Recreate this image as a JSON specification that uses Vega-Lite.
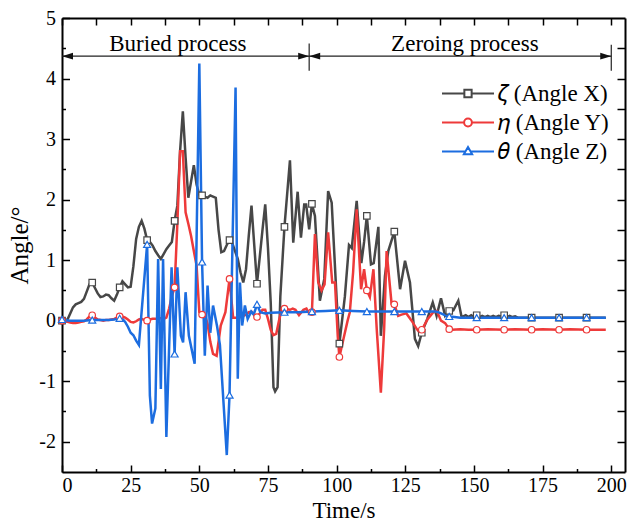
{
 "$schema": "https://vega.github.io/schema/vega-lite/v6.json",
 "width": 563, "height": 454,
 "autosize": {"type": "none"},
 "padding": {"left": 62, "top": 18, "right": 2, "bottom": 50},
 "background": "white",
 "config": {"view": {"stroke": null}, "font": "Liberation Serif",
  "axis": {"grid": false, "labelFont": "Liberation Serif", "titleFont": "Liberation Serif", "labelColor": "#000", "titleColor": "#000", "tickColor": "#000", "domainColor": "#000", "labelFontSize": 20, "titleFontSize": 23, "titleFontWeight": "normal", "tickWidth": 1.5, "domainWidth": 2}},
 "resolve": {"axis": {"x": "independent", "y": "independent"}},
 "datasets": {
  "X": [{"t":0,"v":0},{"t":1,"v":0},{"t":2,"v":0.02},{"t":3,"v":0.12},{"t":4,"v":0.22},{"t":5,"v":0.27},{"t":6,"v":0.29},{"t":7,"v":0.31},{"t":8,"v":0.36},{"t":9,"v":0.48},{"t":10,"v":0.6},{"t":11,"v":0.63},{"t":12,"v":0.54},{"t":13,"v":0.45},{"t":14,"v":0.39},{"t":15,"v":0.4},{"t":16,"v":0.43},{"t":17,"v":0.42},{"t":18,"v":0.37},{"t":19,"v":0.33},{"t":20,"v":0.43},{"t":21,"v":0.55},{"t":22,"v":0.65},{"t":23,"v":0.6},{"t":24,"v":0.55},{"t":25,"v":0.56},{"t":26,"v":0.9},{"t":27,"v":1.35},{"t":28,"v":1.55},{"t":29,"v":1.65},{"t":30,"v":1.52},{"t":31,"v":1.33},{"t":32,"v":1.3},{"t":33,"v":1.24},{"t":34,"v":1.15},{"t":35,"v":1.08},{"t":36,"v":1.02},{"t":37,"v":1.1},{"t":38,"v":1.18},{"t":39,"v":1.24},{"t":40,"v":1.3},{"t":41,"v":1.65},{"t":42,"v":1.9},{"t":43,"v":2.8},{"t":44,"v":3.46},{"t":45,"v":2.7},{"t":46,"v":2.03},{"t":47,"v":2.3},{"t":48,"v":2.57},{"t":49,"v":2.25},{"t":50,"v":2.08},{"t":51,"v":2.07},{"t":52,"v":2.05},{"t":53,"v":2.03},{"t":54,"v":2.07},{"t":55,"v":2.05},{"t":56,"v":2.03},{"t":57,"v":1.5},{"t":58,"v":1.13},{"t":59,"v":1.15},{"t":60,"v":1.25},{"t":61,"v":1.33},{"t":62,"v":1.28},{"t":63,"v":1.15},{"t":64,"v":1.02},{"t":65,"v":0.8},{"t":66,"v":0.63},{"t":67,"v":0.85},{"t":68,"v":1.4},{"t":69,"v":1.9},{"t":70,"v":1.25},{"t":71,"v":0.61},{"t":72,"v":1.05},{"t":73,"v":1.5},{"t":74,"v":1.92},{"t":75,"v":1.2},{"t":76,"v":0.3},{"t":77,"v":-1.1},{"t":77.6,"v":-1.17},{"t":78.5,"v":-1.1},{"t":79.5,"v":0.4},{"t":81,"v":1.55},{"t":83,"v":2.65},{"t":84.2,"v":1.29},{"t":85.8,"v":2.13},{"t":87,"v":1.37},{"t":88.2,"v":1.92},{"t":88.9,"v":1.92},{"t":90,"v":1.51},{"t":91,"v":1.93},{"t":92.1,"v":1.73},{"t":93.9,"v":0.33},{"t":95.5,"v":0.69},{"t":96.9,"v":2.14},{"t":98.2,"v":1.95},{"t":100,"v":0.36},{"t":101,"v":-0.38},{"t":103,"v":0.4},{"t":104.5,"v":1.25},{"t":105.5,"v":1.2},{"t":107.3,"v":1.98},{"t":109,"v":0.95},{"t":110,"v":1.3},{"t":111,"v":1.73},{"t":112.5,"v":0.93},{"t":113.5,"v":0.95},{"t":115.2,"v":1.55},{"t":116.1,"v":-0.25},{"t":117.6,"v":0.74},{"t":118.8,"v":1.15},{"t":121,"v":1.47},{"t":123.1,"v":0.52},{"t":124.9,"v":0.99},{"t":126.7,"v":0.63},{"t":128.5,"v":-0.3},{"t":129.7,"v":-0.42},{"t":131,"v":-0.2},{"t":133,"v":0.03},{"t":135,"v":0.3},{"t":136.4,"v":0.08},{"t":138,"v":0.37},{"t":139.5,"v":0.08},{"t":141,"v":0.16},{"t":142.5,"v":0.17},{"t":144.3,"v":0.33},{"t":145.5,"v":0.06},{"t":147,"v":0.09},{"t":148,"v":0.06},{"t":149,"v":0.09},{"t":150,"v":0.06},{"t":151,"v":0.09},{"t":152,"v":0.06},{"t":153,"v":0.08},{"t":154,"v":0.06},{"t":155,"v":0.08},{"t":156,"v":0.06},{"t":157,"v":0.08},{"t":158,"v":0.06},{"t":159,"v":0.08},{"t":160,"v":0.07},{"t":161,"v":0.09},{"t":162,"v":0.06},{"t":163,"v":0.08},{"t":164,"v":0.06},{"t":165,"v":0.07},{"t":166,"v":0.05},{"t":171,"v":0.05},{"t":181,"v":0.05},{"t":191,"v":0.05},{"t":198,"v":0.05}],
  "Y": [{"t":0,"v":0},{"t":1,"v":-0.01},{"t":2,"v":-0.02},{"t":3,"v":-0.03},{"t":4,"v":-0.04},{"t":5,"v":-0.04},{"t":6,"v":-0.03},{"t":7,"v":-0.02},{"t":8,"v":-0.01},{"t":9,"v":0.02},{"t":10,"v":0.07},{"t":11,"v":0.09},{"t":12,"v":0.05},{"t":13,"v":0.02},{"t":14,"v":0.01},{"t":15,"v":0},{"t":16,"v":0.01},{"t":17,"v":0.01},{"t":18,"v":0.02},{"t":19,"v":0.03},{"t":20,"v":0.05},{"t":21,"v":0.07},{"t":22,"v":0.07},{"t":23,"v":0.05},{"t":24,"v":0.02},{"t":25,"v":-0.02},{"t":26,"v":-0.03},{"t":27,"v":-0.01},{"t":28,"v":0.02},{"t":29,"v":0.03},{"t":30,"v":0.01},{"t":31,"v":0},{"t":32,"v":0.02},{"t":33,"v":0.03},{"t":34,"v":0.03},{"t":35,"v":0.04},{"t":36,"v":0.04},{"t":37,"v":0.03},{"t":38,"v":0.05},{"t":39,"v":0.2},{"t":40,"v":0.4},{"t":41,"v":0.55},{"t":42,"v":1.6},{"t":43,"v":2.8},{"t":44,"v":2.8},{"t":45,"v":1.79},{"t":46,"v":1.6},{"t":47,"v":1.4},{"t":48,"v":1.15},{"t":49,"v":0.91},{"t":50,"v":0.14},{"t":51,"v":0.1},{"t":52,"v":0.1},{"t":53,"v":-0.05},{"t":54,"v":-0.35},{"t":55,"v":-0.55},{"t":56.3,"v":-0.58},{"t":57.8,"v":-0.08},{"t":59.5,"v":0.14},{"t":61,"v":0.69},{"t":62.3,"v":0.05},{"t":63,"v":0.05},{"t":64,"v":0.05},{"t":65,"v":0.06},{"t":66,"v":0.08},{"t":67,"v":0.1},{"t":68,"v":0.14},{"t":69,"v":0.15},{"t":70,"v":0.1},{"t":71,"v":0.06},{"t":72,"v":0.12},{"t":73,"v":0.18},{"t":74,"v":0.18},{"t":75,"v":0.03},{"t":76,"v":-0.15},{"t":77,"v":-0.24},{"t":78,"v":-0.22},{"t":79,"v":0},{"t":80,"v":0.18},{"t":81,"v":0.2},{"t":82,"v":0.19},{"t":83,"v":0.18},{"t":84,"v":0.2},{"t":85,"v":0.18},{"t":86.3,"v":0.09},{"t":87.9,"v":0.18},{"t":89,"v":0.2},{"t":90,"v":0.12},{"t":91,"v":0.14},{"t":92.1,"v":1.43},{"t":93.3,"v":0.63},{"t":94.5,"v":0.5},{"t":95.6,"v":0.6},{"t":96.9,"v":1.46},{"t":98.4,"v":0.63},{"t":99.4,"v":0.63},{"t":100.4,"v":-0.25},{"t":101,"v":-0.6},{"t":102.5,"v":-0.3},{"t":104,"v":0},{"t":104.8,"v":0.14},{"t":106,"v":0.8},{"t":107.3,"v":1.84},{"t":108.9,"v":0.52},{"t":110,"v":0.85},{"t":111,"v":0.5},{"t":112.1,"v":0.39},{"t":113.4,"v":0.85},{"t":114.6,"v":-0.14},{"t":116.1,"v":-1.19},{"t":117.3,"v":-0.14},{"t":118.2,"v":1.15},{"t":120,"v":0.28},{"t":121,"v":0.27},{"t":122.4,"v":0.08},{"t":123.6,"v":0.1},{"t":125.4,"v":0.12},{"t":127.3,"v":0},{"t":129.2,"v":-0.14},{"t":130.3,"v":-0.2},{"t":131,"v":-0.15},{"t":133.2,"v":0.03},{"t":135.2,"v":0.14},{"t":136.5,"v":0.16},{"t":138,"v":0},{"t":139.5,"v":-0.04},{"t":141,"v":-0.14},{"t":142,"v":-0.15},{"t":145,"v":-0.14},{"t":148,"v":-0.15},{"t":151,"v":-0.15},{"t":155,"v":-0.14},{"t":161,"v":-0.15},{"t":165,"v":-0.14},{"t":171,"v":-0.15},{"t":175,"v":-0.14},{"t":181,"v":-0.15},{"t":185,"v":-0.14},{"t":191,"v":-0.15},{"t":198,"v":-0.15}],
  "Z": [{"t":0,"v":0.02},{"t":1,"v":0.01},{"t":3,"v":0},{"t":5,"v":0},{"t":8,"v":0},{"t":11,"v":0.01},{"t":14,"v":0.01},{"t":17,"v":0.01},{"t":19,"v":0.02},{"t":21,"v":0.04},{"t":22,"v":0.03},{"t":23,"v":-0.02},{"t":24,"v":-0.1},{"t":25,"v":-0.2},{"t":26,"v":-0.24},{"t":27,"v":-0.33},{"t":28,"v":-0.4},{"t":31,"v":1.26},{"t":32,"v":-1.24},{"t":32.8,"v":-1.7},{"t":34,"v":-1.45},{"t":35,"v":1.02},{"t":36,"v":-1.13},{"t":36.8,"v":1.02},{"t":38,"v":-1.92},{"t":39.9,"v":0.88},{"t":41,"v":-0.55},{"t":42,"v":0.88},{"t":43.3,"v":-0.25},{"t":44.1,"v":-0.36},{"t":45,"v":0.47},{"t":46.2,"v":-0.25},{"t":48.3,"v":-0.71},{"t":50,"v":4.25},{"t":51,"v":0.97},{"t":52,"v":-0.58},{"t":53,"v":0.58},{"t":54,"v":-0.2},{"t":55,"v":0.25},{"t":56.5,"v":-0.1},{"t":57.5,"v":-0.4},{"t":60,"v":-2.22},{"t":61,"v":-1.23},{"t":63.2,"v":3.85},{"t":64,"v":-0.96},{"t":64.8,"v":0.63},{"t":65.6,"v":-0.08},{"t":66.6,"v":0.25},{"t":67.6,"v":0.03},{"t":68.9,"v":0.15},{"t":69.8,"v":0.1},{"t":71,"v":0.27},{"t":72.2,"v":0.14},{"t":74,"v":0.12},{"t":76,"v":0.13},{"t":81,"v":0.14},{"t":86,"v":0.14},{"t":91,"v":0.15},{"t":96,"v":0.16},{"t":101,"v":0.17},{"t":106,"v":0.16},{"t":111,"v":0.15},{"t":116,"v":0.15},{"t":121,"v":0.15},{"t":126,"v":0.15},{"t":131,"v":0.15},{"t":136,"v":0.15},{"t":137,"v":0.14},{"t":138,"v":0.12},{"t":139,"v":0.1},{"t":140,"v":0.08},{"t":141,"v":0.07},{"t":143,"v":0.06},{"t":145,"v":0.05},{"t":151,"v":0.05},{"t":161,"v":0.05},{"t":171,"v":0.05},{"t":181,"v":0.05},{"t":191,"v":0.05},{"t":198,"v":0.05}],
  "span": [{"a":0,"b":200,"y":4.37}],
  "bars": [{"x":90,"y1":4.13,"y2":4.58},{"x":200,"y1":4.13,"y2":4.56}],
  "leftTips": [{"x":0,"y":4.37},{"x":90,"y":4.37}],
  "rightTips": [{"x":90,"y":4.37},{"x":200,"y":4.37}],
  "labels": [{"x":42.2,"y":4.45,"label":"Buried process"},{"x":146.7,"y":4.45,"label":"Zeroing process"}]
 },
 "layer": [
  {"data": {"name": "span"}, "mark": {"type": "rule", "color": "#222", "strokeWidth": 1.2},
   "encoding": {"x": {"field": "a", "type": "quantitative", "axis": null}, "x2": {"field": "b"}, "y": {"field": "y", "type": "quantitative", "axis": null}}},
  {"data": {"name": "bars"}, "mark": {"type": "rule", "color": "#222", "strokeWidth": 1.2},
   "encoding": {"x": {"field": "x", "type": "quantitative", "axis": null}, "y": {"field": "y1", "type": "quantitative", "axis": null}, "y2": {"field": "y2"}}},
  {"data": {"name": "leftTips"}, "mark": {"type": "point", "shape": "M0,0L2,-0.6L2,0.6Z", "size": 121, "filled": true, "color": "#111", "opacity": 1},
   "encoding": {"x": {"field": "x", "type": "quantitative", "axis": null}, "y": {"field": "y", "type": "quantitative", "axis": null}}},
  {"data": {"name": "rightTips"}, "mark": {"type": "point", "shape": "M0,0L-2,-0.6L-2,0.6Z", "size": 121, "filled": true, "color": "#111", "opacity": 1},
   "encoding": {"x": {"field": "x", "type": "quantitative", "axis": null}, "y": {"field": "y", "type": "quantitative", "axis": null}}},
  {"data": {"name": "labels"}, "mark": {"type": "text", "font": "Liberation Serif", "fontSize": 23, "align": "center", "baseline": "alphabetic", "color": "#000"},
   "encoding": {"x": {"field": "x", "type": "quantitative", "axis": null}, "y": {"field": "y", "type": "quantitative", "axis": null}, "text": {"field": "label"}}},
  {"data": {"name": "X"}, "mark": {"type": "line", "strokeWidth": 2.5},
   "encoding": {
    "x": {"field": "t", "type": "quantitative", "scale": {"domain": [0, 205], "nice": false, "zero": false},
          "axis": {"orient": "bottom", "values": [0,25,50,75,100,125,150,175,200], "tickSize": -7, "labelPadding": 10, "labelExpr": "'' + datum.value", "title": "Time/s", "titlePadding": 4, "domain": true}},
    "y": {"field": "v", "type": "quantitative", "scale": {"domain": [-2.5, 5], "nice": false, "zero": false},
          "axis": {"orient": "left", "values": [-2,-1,0,1,2,3,4,5], "tickSize": -7.5, "labelPadding": 14, "labelExpr": "'' + datum.value", "title": "Angle/°", "titleFontSize": 25, "titlePadding": 6, "domain": true}},
    "color": {"datum": "𝜁 (Angle X)", "type": "nominal",
      "scale": {"domain": ["𝜁 (Angle X)", "𝜂 (Angle Y)", "𝜃 (Angle Z)"], "range": ["#474747", "#ee3a3a", "#1c6de0"]},
      "legend": {"orient": "none", "legendX": 379, "legendY": 61, "title": null, "padding": 0, "rowPadding": 0, "clipHeight": 29,
        "labelFont": "Liberation Serif", "labelFontSize": 23, "labelColor": "#000", "labelOffset": 3, "labelLimit": 300,
        "symbolSize": 2704, "symbolStrokeWidth": 2,
        "encode": {"symbols": {"update": {"fill": {"value": "white"}, "fillOpacity": {"value": 1},
          "shape": {"signal": "indexof(datum.value, 'X') > 0 ? 'M-1,0H-0.14M0.14,0H1M-0.14,-0.14H0.14V0.14H-0.14Z' : (indexof(datum.value, 'Y') > 0 ? 'M-1,0H-0.15M0.15,0H1M0.15,0A0.15,0.15,0,1,1,-0.15,0A0.15,0.15,0,1,1,0.15,0Z' : 'M-1,0H-0.11M0.11,0H1M0,-0.17L0.16,0.11H-0.16Z')"}}}}}}
   }},
  {"data": {"name": "Y"}, "mark": {"type": "line", "strokeWidth": 2.5},
   "encoding": {
    "x": {"field": "t", "type": "quantitative", "axis": {"orient": "bottom", "values": [12.5,37.5,62.5,87.5,112.5,137.5,162.5,187.5], "tickSize": -3.5, "labels": false, "domain": false, "title": null}},
    "y": {"field": "v", "type": "quantitative", "axis": {"orient": "left", "values": [-1.5,-0.5,0.5,1.5,2.5,3.5,4.5], "tickSize": -3.5, "labels": false, "domain": false, "title": null}},
    "color": {"datum": "𝜂 (Angle Y)", "type": "nominal"}
   }},
  {"data": {"name": "Z"}, "mark": {"type": "line", "strokeWidth": 2.5},
   "encoding": {
    "x": {"field": "t", "type": "quantitative", "axis": {"orient": "top", "values": [0,12.5,25,37.5,50,62.5,75,87.5,100,112.5,125,137.5,150,162.5,175,187.5,200], "tickSize": -7, "labels": false, "domain": true, "title": null}},
    "y": {"field": "v", "type": "quantitative", "axis": {"orient": "right", "values": [-2,-1.5,-1,-0.5,0,0.5,1,1.5,2,2.5,3,3.5,4,4.5], "tickSize": -8, "labels": false, "domain": true, "title": null}},
    "color": {"datum": "𝜃 (Angle Z)", "type": "nominal"}
   }},
  {"data": {"name": "X"}, "transform": [{"filter": {"field": "t", "oneOf": [0,11,21,31,41,51,61,71,81,91,101,111,121,131,141,151,161,171,181,191]}}],
   "mark": {"type": "point", "shape": "square", "size": 42, "filled": true, "fill": "white", "stroke": "#474747", "strokeWidth": 1.2, "opacity": 1},
   "encoding": {"x": {"field": "t", "type": "quantitative", "axis": null}, "y": {"field": "v", "type": "quantitative", "axis": null}}},
  {"data": {"name": "Y"}, "transform": [{"filter": {"field": "t", "oneOf": [0,11,21,31,41,51,61,71,81,91,101,111,121,131,141,151,161,171,181,191]}}],
   "mark": {"type": "point", "shape": "circle", "size": 42, "filled": true, "fill": "white", "stroke": "#ee3a3a", "strokeWidth": 1.2, "opacity": 1},
   "encoding": {"x": {"field": "t", "type": "quantitative", "axis": null}, "y": {"field": "v", "type": "quantitative", "axis": null}}},
  {"data": {"name": "Z"}, "transform": [{"filter": {"field": "t", "oneOf": [0,11,21,31,41,51,61,71,81,91,101,111,121,131,141,151,161,171,181,191]}}],
   "mark": {"type": "point", "shape": "triangle-up", "size": 50, "filled": true, "fill": "white", "stroke": "#1c6de0", "strokeWidth": 1.2, "opacity": 1},
   "encoding": {"x": {"field": "t", "type": "quantitative", "axis": null}, "y": {"field": "v", "type": "quantitative", "axis": null}}}
 ]
}
